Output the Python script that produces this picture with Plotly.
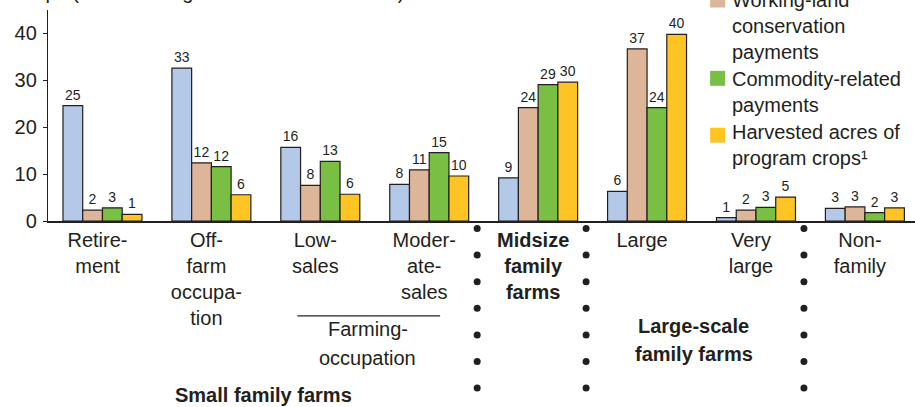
import plotly.graph_objects as go

# farm typology groups (tick labels)
categories = [
    "Retire-<br>ment",
    "Off-<br>farm<br>occupa-<br>tion",
    "Low-<br>sales",
    "Moder-<br>ate-<br>sales",
    "<b>Midsize</b><br><b>family</b><br><b>farms</b>",
    "Large",
    "Very<br>large",
    "Non-<br>family",
]

# percent of U.S. total
farms = [24.6, 32.6, 15.7, 7.8, 9.2, 6.3, 0.7, 2.7]
conservation = [2.3, 12.4, 7.6, 10.9, 24.2, 36.7, 2.3, 3.0]
commodity = [2.8, 11.6, 12.7, 14.6, 29.1, 24.2, 2.9, 1.8]
acres = [1.4, 5.6, 5.7, 9.6, 29.6, 39.8, 5.1, 2.8]

series = [
    ("Farms", farms, "#B3C9E7"),
    ("Working-land conservation payments", conservation, "#DDB598"),
    ("Commodity-related payments", commodity, "#79BF43"),
    ("Harvested acres of program crops", acres, "#FEC423"),
]

FONT = "Liberation Sans, Arial, Helvetica, sans-serif"
INK = "#231f20"

# plot-area edges in page pixels, used to place the static decorations
PL, PR, PT, PB = 47.5, 915, 10, 221.5


def xp(px):
    return (px - PL) / (PR - PL)


def yp(py):
    return (PB - py) / (PB - PT)


def text(s, x, y, xref="paper", xanchor="center", xshift=0, size=20):
    return dict(text=s, xref=xref, yref="paper", x=x, y=y, xshift=xshift,
                xanchor=xanchor, yanchor="middle", showarrow=False,
                font=dict(family=FONT, size=size, color=INK))


fig = go.Figure()
for name, vals, color in series:
    fig.add_trace(go.Bar(
        x=categories, y=vals, name=name,
        marker=dict(color=color, line=dict(color=INK, width=1.2)),
        texttemplate="%{y:.0f}", textposition="outside", constraintext="none",
        textfont=dict(family=FONT, size=14, color=INK), cliponaxis=False,
    ))

fig.update_xaxes(
    range=[-0.5, 7.46], showline=True, linecolor=INK, linewidth=1.5, automargin=False,
    ticks="", tickfont=dict(family=FONT, size=20, color=INK),
    ticklabelshift=-5, ticklabelstandoff=0,
)
fig.update_yaxes(
    range=[0, 45], tickvals=[0, 10, 20, 30, 40], showgrid=False, zeroline=False,
    showline=True, linecolor=INK, linewidth=1.3, automargin=False,
    ticks="outside", ticklen=4, tickwidth=1, tickcolor=INK, ticklabelstandoff=2,
    tickfont=dict(family=FONT, size=20, color=INK),
)

ann = []
shapes = []

# axis title, mostly above the visible page
ann.append(text("Groups (share of all given U.S. totals in each)", xp(-2), yp(-8), xanchor="left"))

# legend drawn by hand: swatch + wrapped text lines
legend_lines = [
    ("Farms", -27),
    ("Working-land", -0.5), ("conservation", 26), ("payments", 52.5),
    ("Commodity-related", 79), ("payments", 105.5),
    ("Harvested acres of", 132), ("program crops¹", 158.5),
]
for txt, cy in legend_lines:
    ann.append(text(txt, xp(730), yp(cy), xanchor="left"))
swatches = [("#B3C9E7", -27), ("#DDB598", 0), ("#79BF43", 78.5), ("#FEC423", 135.5)]
for color, cy in swatches:
    shapes.append(dict(type="rect", xref="paper", yref="paper",
                       x0=xp(710), x1=xp(725), y0=yp(cy - 7.5), y1=yp(cy + 7.5),
                       fillcolor=color, line=dict(width=0)))

# group captions
ann.append(text("Farming-", 2.5, yp(330), xref="x", xshift=-7))
ann.append(text("occupation", 2.5, yp(359), xref="x", xshift=-7))
shapes.append(dict(type="line", xref="x", yref="paper", x0=1.79, x1=3.1,
                   y0=yp(316.5), y1=yp(316.5), line=dict(color=INK, width=1.2)))
ann.append(text("<b>Small family farms</b>", 1.5, yp(395.5), xref="x", xshift=-2))
ann.append(text("<b>Large-scale</b>", 5.5, yp(327), xref="x", xshift=-8))
ann.append(text("<b>family farms</b>", 5.5, yp(355), xref="x", xshift=-8))

# dotted separators between farm classes
for bx in [3.5, 4.5, 6.5]:
    for k in range(7):
        cy = 229 + 26.67 * k
        shapes.append(dict(type="circle", xref="x", yref="paper", xsizemode="pixel",
                           ysizemode="pixel", xanchor=bx, yanchor=yp(cy),
                           x0=-10, x1=-3, y0=-3.5, y1=3.5,
                           fillcolor=INK, line=dict(width=0)))

fig.update_layout(
    width=915, height=407,
    barmode="group", bargap=0.275, bargroupgap=0,
    showlegend=False,
    plot_bgcolor="white", paper_bgcolor="white",
    margin=dict(l=PL, r=0, t=PT, b=407 - PB),
    font=dict(family=FONT, color=INK),
    annotations=ann, shapes=shapes,
)

# the page body keeps the browser's 8px margin otherwise
fig.write_html("out.html", config={"displayModeBar": False},
               post_script="document.body.style.margin='0';")
